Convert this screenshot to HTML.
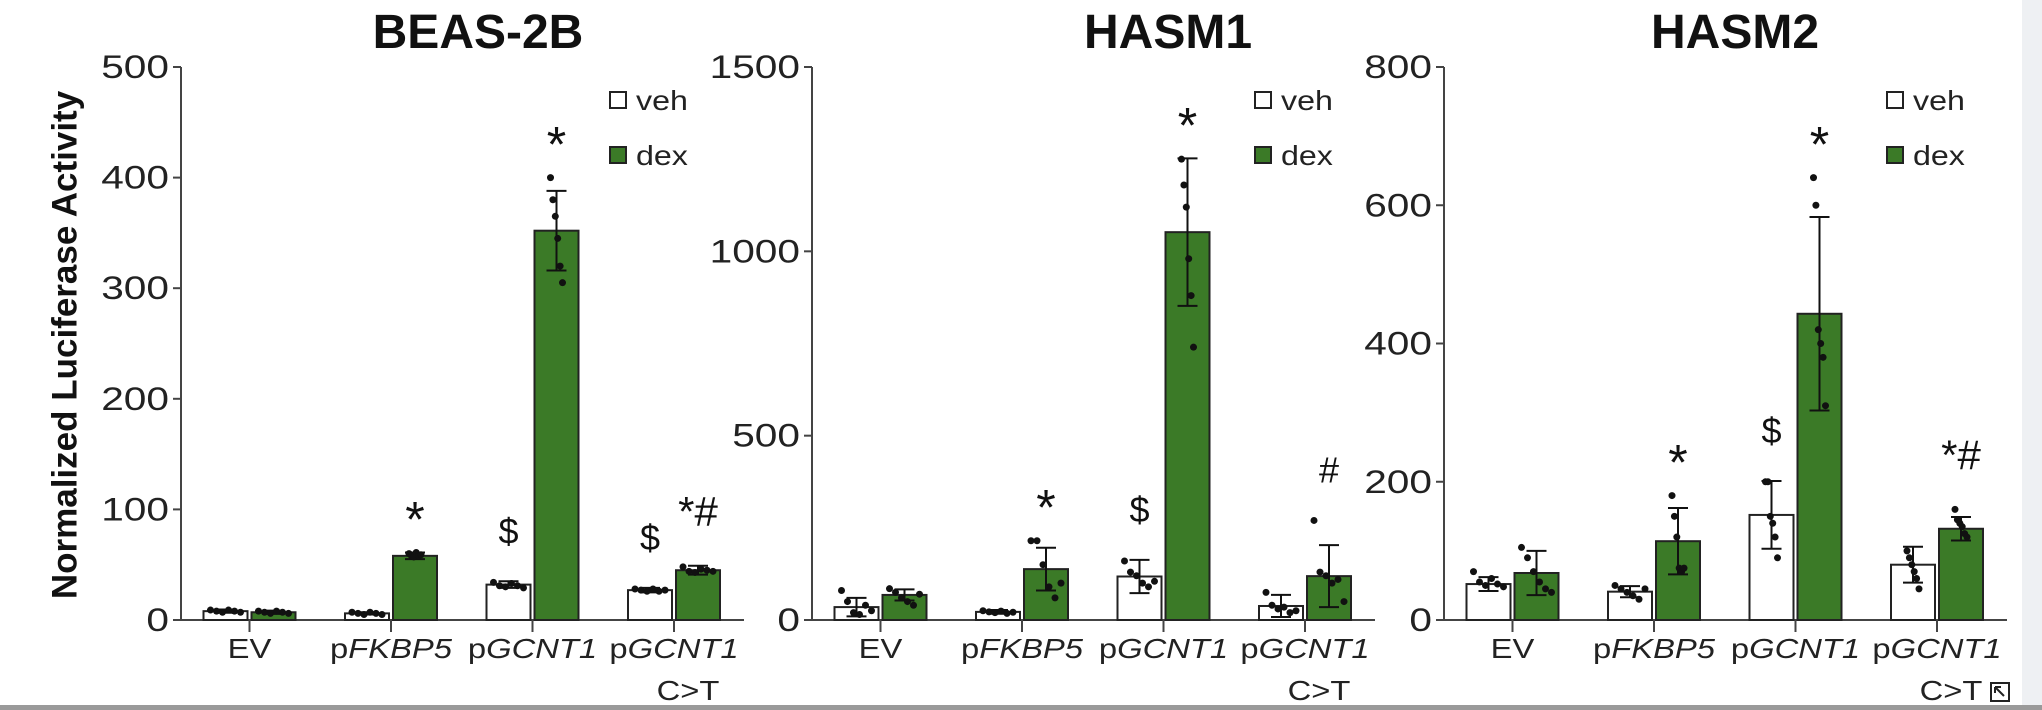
<!DOCTYPE html>
<html><head><meta charset="utf-8">
<style>
html,body{margin:0;padding:0;background:#fff;}
svg{display:block;font-family:"Liberation Sans",Arial,sans-serif;}
</style></head>
<body>
<svg id="chart" width="2042" height="710" viewBox="0 0 2042 710">
<rect x="2022" y="0" width="20" height="710" fill="#eef0f3"/>
<rect x="0" y="705" width="2042" height="5" fill="#9a9a9a"/>
<rect x="1991" y="683" width="18" height="18" fill="none" stroke="#222" stroke-width="2"/>
<path d="M1995 687 L2004 696 M1995 687 L2001 687 M1995 687 L1995 693" stroke="#222" stroke-width="2" fill="none"/>
<text x="67" y="345" transform="rotate(-90 67 345)" text-anchor="middle" dominant-baseline="middle" font-size="35" font-weight="bold" fill="#111">Normalized Luciferase Activity</text>
<g id="panels"></g>
</svg>
<script>
const categories = ["EV", "FKBP5", "GCNT1", "GCNT1CT"];
const panelTitles = ["BEAS-2B", "HASM1", "HASM2"];
const yMaxes = [500, 1500, 800];
const tickLabels = [[0,100,200,300,400,500],[0,500,1000,1500],[0,200,400,600,800]];
const vehMeans = [[8,6,32,27],[35,22,118,38],[52,41,152,80]];
const vehErr = [[1.5,1,3,2],[25,5,45,30],[10,8,49,26]];
const dexMeans = [[7,58,352,45],[68,138,1052,119],[68,114,443,132]];
const dexErr = [[1.5,3,36,4],[15,58,200,84],[32,48,140,17]];
const vehDots = [
 [[9,8,7,9,8,7],[7,6,5,7,6,5],[34,31,30,33,31,29],[28,27,26,28,26,27]],
 [[80,50,20,15,40,25],[25,22,20,24,18,21],[160,130,120,100,90,105],[75,40,30,35,20,25]],
 [[70,55,50,60,52,48],[50,45,40,35,30,45],[200,200,150,140,120,90],[100,90,80,70,60,45]]];
const dexDots = [
 [[8,7,6,8,7,6],[60,58,57,61,58,59],[400,380,365,345,320,305],[48,44,43,46,45,44]],
 [[85,75,60,50,40,70],[215,215,150,90,60,100],[1250,1180,1120,980,880,740],[270,130,120,100,110,50]],
 [[105,90,70,55,45,40],[180,150,120,75,70,75],[640,600,420,400,380,310],[160,145,140,135,125,120]]];
const vehAnnot = [["","","$","$"],["","","$",""],["","","$",""]];
const dexAnnot = [["","*","*","*#"],["","*","*","#"],["","*","*","*#"]];

const NS = "http://www.w3.org/2000/svg";
const root = document.getElementById("panels");
const axisXs = [181, 812, 1444];
const Y0 = 620, YTOP = 67, BAND = 141.5, GREEN = "#3b7a27";
function mk(tag, attrs, parent){const e=document.createElementNS(NS,tag);for(const k in attrs)e.setAttribute(k,attrs[k]);(parent||root).appendChild(e);return e;}
function stext(parent,x,y,size,anchor,sx){
  return mk("text",{x:0,y:0,transform:"translate("+x+","+y+") scale("+sx+",1)","text-anchor":anchor,"font-size":size,fill:"#222"},parent);
}
function catLabel(parent,x,c){
  const t=stext(parent,x,658,28,"middle",1.17);
  
  
  if(c==="EV"){t.textContent="EV";return;}
  const a=document.createElementNS(NS,"tspan");a.textContent="p";t.appendChild(a);
  const b=document.createElementNS(NS,"tspan");b.setAttribute("font-style","italic");b.textContent=c==="FKBP5"?"FKBP5":"GCNT1";t.appendChild(b);
  if(c==="GCNT1CT"){const t2=stext(parent,x+14,700,28,"middle",1.17);t2.textContent="C>T";
    
    }
}
panelTitles.forEach((title,p)=>{
  const ax=axisXs[p];
  const g=mk("g",{});
  
  
  const yS=v=>Y0-(v/yMaxes[p])*(Y0-YTOP);
  const xC=i=>ax+68.5+i*BAND;
  const tt=mk("text",{x:ax+(p===0?297:(p===1?356:291)),y:48,"text-anchor":"middle","font-size":48,"font-weight":"bold",fill:"#111"},g);
  tt.textContent=title;
  
  
  const yl=mk("line",{x1:ax,y1:YTOP,x2:ax,y2:Y0,stroke:"#444","stroke-width":2},g);
  
  
  const xl=mk("line",{x1:ax,y1:Y0,x2:ax+563,y2:Y0,stroke:"#444","stroke-width":2},g);
  
  
  tickLabels[p].forEach(v=>{
    mk("line",{x1:ax-8,y1:yS(v),x2:ax,y2:yS(v),stroke:"#444","stroke-width":2},g);
    const t=stext(g,ax-12,yS(v)+11,32,"end",1.27);
    t.textContent=v;
    
    
  });
  categories.forEach((c,i)=>{
    const cx=xC(i);
    mk("line",{x1:cx,y1:Y0,x2:cx,y2:Y0+12,stroke:"#444","stroke-width":2},g);
    catLabel(g,cx,c);
    [["veh",vehMeans,vehErr,vehDots,vehAnnot,cx-46,"#fff"],["dex",dexMeans,dexErr,dexDots,dexAnnot,cx+2,GREEN]].forEach(s=>{
      const [nm,M,E,D,A,bx,fill]=s;
      const v=M[p][i], e=E[p][i], top=yS(v);
      const r=mk("rect",{x:bx,y:top,width:44,height:Y0-top,fill:fill,stroke:"#222","stroke-width":2},g);
      
      
      const mx=bx+22;
      mk("line",{x1:mx,y1:yS(v+e),x2:mx,y2:yS(Math.max(0,v-e)),stroke:"#111","stroke-width":2},g);
      mk("line",{x1:mx-10,y1:yS(v+e),x2:mx+10,y2:yS(v+e),stroke:"#111","stroke-width":2},g);
      mk("line",{x1:mx-10,y1:yS(Math.max(0,v-e)),x2:mx+10,y2:yS(Math.max(0,v-e)),stroke:"#111","stroke-width":2},g);
      let maxV=v+e;
      D[p][i].forEach((d,k)=>{
        maxV=Math.max(maxV,d);
        const off=[-15,-9,-3,3,9,15][k]*(v<(yMaxes[p]*0.1)?1:0.4);
        const dot=mk("circle",{cx:mx+off,cy:yS(d),r:3.5,fill:"#111"},g);
        
        
      });
      const a=A[p][i];
      if(a){
        const ty=yS(maxV);
        let at;
        if(a==="*"){
          at=mk("text",{x:mx,y:ty-16,"text-anchor":"middle","font-size":50,fill:"#111"},g);
        } else if(a==="*#"){
          at=mk("text",{x:mx,y:ty-40,"text-anchor":"middle","font-size":42,fill:"#111"},g);
        } else {
          at=mk("text",{x:mx,y:ty-38,"text-anchor":"middle","font-size":36,fill:"#111"},g);
        }
        at.textContent=a;
        
        
      }
    });
  });
  const lx=ax+(p===0?437:451);
  [["veh","#fff",100],["dex",GREEN,155]].forEach(l=>{
    const sq=mk("rect",{x:lx-8,y:l[2]-8,width:16,height:16,fill:l[1],stroke:"#222","stroke-width":2},g);
    
    
    const lt=stext(g,lx+18,l[2]+10,28,"start",1.15);
    lt.textContent=l[0];
    
    
  });
});
</script>
</body></html>
